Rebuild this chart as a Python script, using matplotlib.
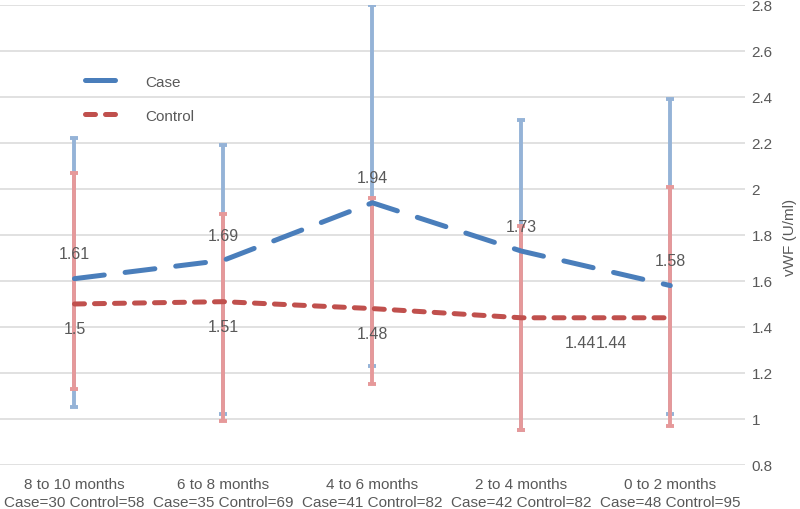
# vWF levels by age group, case vs control

import matplotlib.pyplot as plt

categories = ["8 to 10 months\nCase=30 Control=58",
              "6 to 8 months\nCase=35 Control=69",
              "4 to 6 months\nCase=41 Control=82",
              "2 to 4 months\nCase=42 Control=82",
              "0 to 2 months\nCase=48 Control=95"]
case_mean = [1.61, 1.69, 1.94, 1.73, 1.58]
case_low = [1.05, 1.02, 1.23, 0.95, 1.02]
case_high = [2.22, 2.19, 2.80, 2.30, 2.39]
control_mean = [1.50, 1.51, 1.48, 1.44, 1.44]
control_low = [1.13, 0.99, 1.15, 0.95, 0.97]
control_high = [2.07, 1.89, 1.96, 1.84, 2.01]

plt.rcParams["font.family"] = ["Liberation Sans", "DejaVu Sans"]
grey = "#595959"
fs = 11

fig = plt.figure(figsize=(8, 5.1), dpi=100)
ax = fig.add_axes([0.0, 0.0863, 0.931, 0.902])

x = list(range(len(categories)))

# error bars
ax.errorbar(x, case_mean,
            yerr=[[m - l for m, l in zip(case_mean, case_low)],
                  [h - m for m, h in zip(case_mean, case_high)]],
            fmt="none", ecolor="#95B3D7", elinewidth=2.8, capsize=3, capthick=2.8, zorder=2)
ax.errorbar(x, control_mean,
            yerr=[[m - l for m, l in zip(control_mean, control_low)],
                  [h - m for m, h in zip(control_mean, control_high)]],
            fmt="none", ecolor="#E6999A", elinewidth=2.8, capsize=3, capthick=2.8, zorder=3)

# mean lines
ax.plot(x, case_mean, color="#4A7EBB", lw=3.6, dashes=(6, 4.2),
        dash_capstyle="round", label="Case", zorder=4)
ax.plot(x, control_mean, color="#C0504D", lw=3.6, dashes=(2, 2),
        dash_capstyle="round", label="Control", zorder=4)

# data labels
for i, v in enumerate(case_mean):
    ax.annotate(f"{v:g}", (i, v), xytext=(0, 18), textcoords="offset points",
                ha="center", va="center", fontsize=11.5, color=grey, zorder=5)
for i, v in enumerate(control_mean[:3]):
    ax.annotate(f"{v:g}", (i, v), xytext=(0, -18), textcoords="offset points",
                ha="center", va="center", fontsize=11.5, color=grey, zorder=5)
ax.annotate(f"{control_mean[3]:g}", (3.5, control_mean[3]), xytext=(0, -18),
            textcoords="offset points", ha="right", va="center", fontsize=11.5, color=grey)
ax.annotate(f"{control_mean[4]:g}", (3.5, control_mean[4]), xytext=(0, -18),
            textcoords="offset points", ha="left", va="center", fontsize=11.5, color=grey)

ax.set_xlim(-0.5, 4.5)
ax.set_ylim(0.8, 2.8)
ticks = [round(0.8 + 0.2 * k, 1) for k in range(11)]
ax.set_yticks(ticks)
ax.set_yticklabels([f"{t:g}" for t in ticks])
ax.set_xticks(x)
ax.set_xticklabels(categories, fontsize=fs, color=grey, linespacing=1.4)
ax.yaxis.tick_right()
ax.tick_params(axis="y", length=0, labelsize=fs, labelcolor=grey, pad=5)
ax.tick_params(axis="x", length=0, pad=8.5)
ax.grid(axis="y", color="#D9D9D9", lw=1.1)
ax.set_axisbelow(True)
for s in ax.spines.values():
    s.set_visible(False)

fig.text(790 / 800, 1 - 237 / 510, "vWF (U/ml)", rotation=90, ha="center",
         va="center", fontsize=fs, color=grey)

ax.legend(loc="upper left", bbox_to_anchor=(0.095, 0.878), frameon=False,
          fontsize=fs, labelcolor=grey, handlelength=2.5, handletextpad=1.45,
          labelspacing=1.3)

fig.savefig("out.png", dpi=100)
